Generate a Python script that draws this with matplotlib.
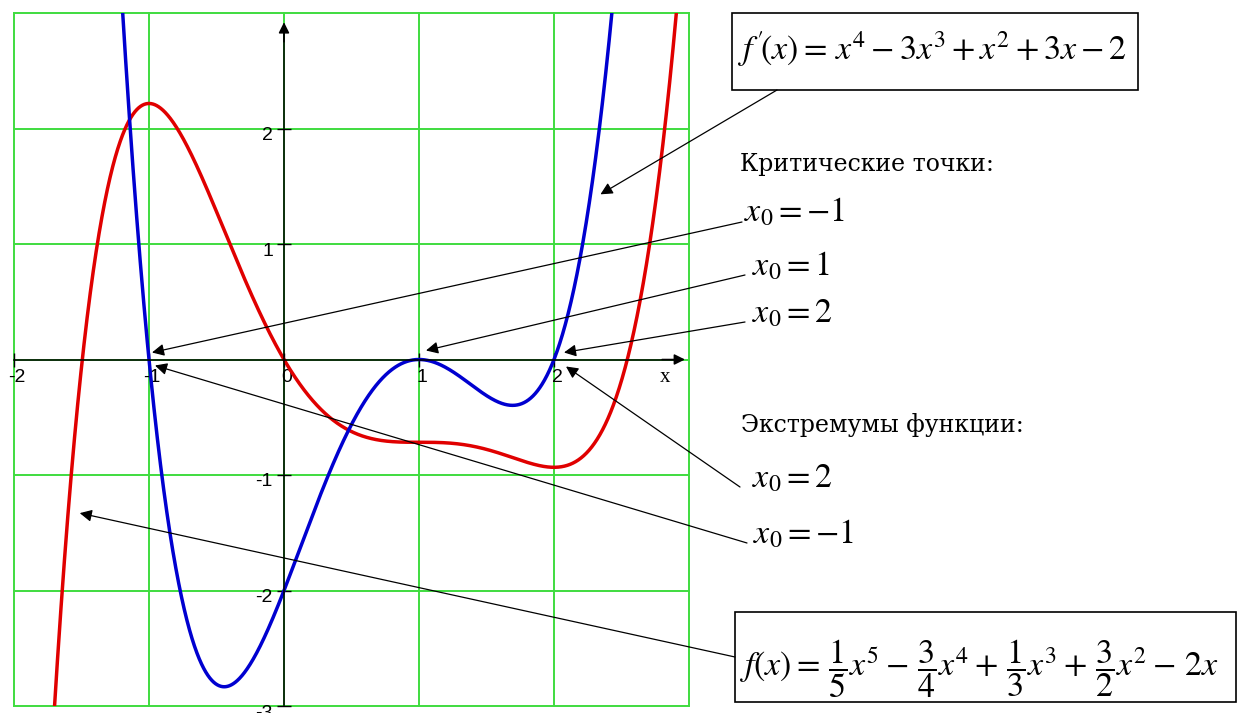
import numpy as np
import matplotlib.pyplot as plt
from matplotlib.patches import Rectangle
from matplotlib.transforms import offset_copy, ScaledTranslation

# Polynomial coefficients, highest power first
f_coef = [1 / 5, -3 / 4, 1 / 3, 3 / 2, -2, 0]   # f(x)
df_coef = [1, -3, 1, 3, -2]                      # f'(x)

x_ticks = [-2, -1, 0, 1, 2]
y_ticks = [-3, -2, -1, 1, 2]
grid_x = [-2, -1, 0, 1, 2, 3]
grid_y = [-3, -2, -1, 0, 1, 2, 3]

crit_points = [-1, 1, 2]
crit_labels = [r"$x_0 = -1$", r"$x_0 = 1$", r"$x_0 = 2$"]
extrema = [2, -1]
extrema_labels = [r"$x_0 = 2$", r"$x_0 = -1$"]

W, H = 1237, 713
GREEN = "#3fdc3f"

plt.rcParams["mathtext.fontset"] = "stix"

fig = plt.figure(figsize=(W / 100, H / 100), dpi=100)
fig.patch.set_facecolor("white")

# plot area in pixels: left 14, right 689, top 13, bottom 706
ax = fig.add_axes([14 / W, 1 - 706 / H, (689 - 14) / W, (706 - 13) / H])
ax.set_xlim(-2, 3)
ax.set_ylim(-3, 3)
ax.set_facecolor("white")

# green grid, outer lines form the frame
for gx in grid_x:
    ax.axvline(gx, color=GREEN, lw=1.4, zorder=1, clip_on=False)
for gy in grid_y:
    ax.axhline(gy, color=GREEN, lw=1.4, zorder=1, clip_on=False)

# curves
xs = np.linspace(-2, 3, 3000)
ax.plot(xs, np.polyval(f_coef, xs), color="#e00000", lw=2.5, zorder=3)
ax.plot(xs, np.polyval(df_coef, xs), color="#0000d0", lw=2.5, zorder=3)

# crossed axes through the origin
ax.spines["top"].set_visible(False)
ax.spines["right"].set_visible(False)
ax.spines["left"].set_position(("data", 0))
ax.spines["bottom"].set_position(("data", 0))
ax.spines["left"].set_bounds(-3, 2.85)
ax.spines["bottom"].set_bounds(-2, 2.9)
for s in ("left", "bottom"):
    ax.spines[s].set_color("black")
    ax.spines[s].set_linewidth(1.1)
    ax.spines[s].set_zorder(4)

ax.annotate("", xy=(2.97, 0), xytext=(2.8, 0),
            arrowprops=dict(arrowstyle="-|>", color="black", lw=1.1,
                            mutation_scale=16, shrinkA=0, shrinkB=0))
ax.annotate("", xy=(0, 2.92), xytext=(0, 2.75),
            arrowprops=dict(arrowstyle="-|>", color="black", lw=1.1,
                            mutation_scale=16, shrinkA=0, shrinkB=0))

ax.set_xticks(x_ticks)
ax.set_xticklabels([str(t) for t in x_ticks])
ax.set_yticks(y_ticks)
ax.set_yticklabels([str(t) for t in y_ticks])
ax.tick_params(direction="inout", length=10, width=1, color="black",
               labelsize=14, zorder=4)
ax.tick_params(axis="x", pad=2)
ax.tick_params(axis="y", pad=3)
shift = ScaledTranslation(3 / 100, 0, fig.dpi_scale_trans)
for lbl in ax.get_xticklabels():
    lbl.set_transform(lbl.get_transform() + shift)
    lbl.set_family("Liberation Sans")
down = ScaledTranslation(0, -5 / 100, fig.dpi_scale_trans)
for lbl in ax.get_yticklabels():
    lbl.set_transform(lbl.get_transform() + down)
    lbl.set_family("Liberation Sans")

ax.text(2.82, 0, "x", transform=offset_copy(ax.transData, fig, x=0, y=-8, units="dots"),
        ha="center", va="top", fontsize=15, family="Liberation Serif")


def fp(x, y):
    # pixel position measured from the top-left corner
    return (x, H - y)


def ff(x, y):
    # same position as a figure fraction
    return (x / W, 1 - y / H)


arrow_kw = dict(arrowstyle="-|>", color="black", lw=0.9, mutation_scale=18,
                shrinkA=0, shrinkB=0)


def pointer(tip, dx, dy, start):
    tr = offset_copy(ax.transData, fig, x=dx, y=dy, units="dots")
    a = ax.annotate("", xy=tip, xycoords=tr, xytext=fp(*start),
                    textcoords="figure pixels", arrowprops=arrow_kw,
                    annotation_clip=False, zorder=6)
    a.arrow_patch.set_clip_on(False)


MATH = 24.5

# f'(x) box
fig.patches.append(Rectangle(fp(732, 90), 1138 - 732, 90 - 13, transform=None,
                             fill=False, edgecolor="black", lw=1.2, figure=fig))
fig.text(*ff(737, 60),
         r"$f\,'\!(x) =\, x^4 - 3x^3 + x^2 + 3x - 2$",
         fontsize=MATH, va="baseline")
pointer((2.344, 1.43), 0, 0, (777, 90))

# f(x) box
fig.patches.append(Rectangle(fp(735, 702), 1236 - 735, 702 - 612, transform=None,
                             fill=False, edgecolor="black", lw=1.2, figure=fig))
fig.text(*ff(739, 676),
         r"$f(x) =\, \dfrac{1}{5}x^5 -\, \dfrac{3}{4}x^4 +\, \dfrac{1}{3}x^3 +\, "
         r"\dfrac{3}{2}x^2 -\, 2x$",
         fontsize=MATH, va="baseline")
pointer((-1.513, -1.33), 0, 0, (735, 657))

# critical points
fig.text(*ff(740, 165), "Критические точки:", fontsize=17,
         family="DejaVu Serif", va="center")
crit_text = [(744, 222), (752, 275), (752, 322)]
crit_tail = [(742, 222), (745, 275), (745, 322)]
crit_off = [(3, 7), (7, 9), (10, 7)]
for x0, lab, pos, tail, (dx, dy) in zip(crit_points, crit_labels, crit_text,
                                        crit_tail, crit_off):
    fig.text(*ff(*pos), lab, fontsize=MATH, va="baseline")
    pointer((x0, 0), dx, dy, tail)

# extrema
fig.text(*ff(741, 425), "Экстремумы функции:", fontsize=17,
         family="DejaVu Serif", va="center")
ext_text = [(752, 488), (753, 543)]
ext_tail = [(740, 487), (747, 543)]
ext_off = [(12, -7), (6, -6)]
for x0, lab, pos, tail, (dx, dy) in zip(extrema, extrema_labels, ext_text,
                                        ext_tail, ext_off):
    fig.text(*ff(*pos), lab, fontsize=MATH, va="baseline")
    pointer((x0, 0), dx, dy, tail)

fig.savefig("out.png", dpi=100, facecolor="white")
